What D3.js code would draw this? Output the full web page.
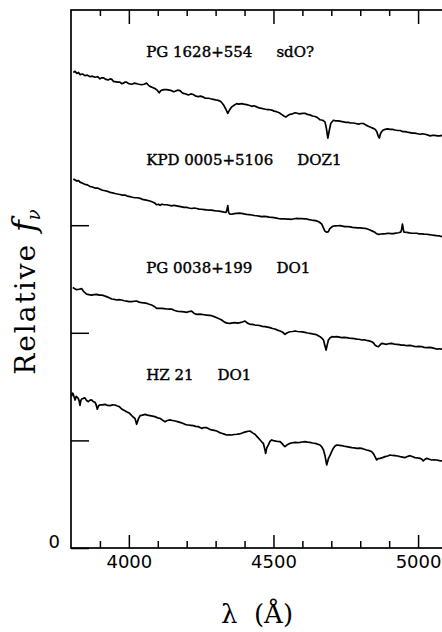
<!DOCTYPE html>
<html>
<head>
<meta charset="utf-8">
<script src="https://cdn.jsdelivr.net/npm/d3@7"></script>
<style>
  body { margin: 0; background: #fff; }
  svg { display: block; background: #fff; }
  .spectrum { fill: none; stroke: #000; stroke-width: 1.7; stroke-linejoin: round; }
  .tick line { stroke: #000; stroke-width: 1.5; }
</style>
</head>
<body>
<svg id="chart" width="442" height="632"></svg>
<script>
// Spectra of hot subdwarf / DO white dwarfs (relative f_nu, offset by 1 each)

const starNames = ["PG 1628+554", "KPD 0005+5106", "PG 0038+199", "HZ 21"];
const spectralTypes = ["sdO?", "DOZ1", "DO1", "DO1"];
const majorTicks = [4000, 4500, 5000];
const minorTicks = [3900, 4100, 4200, 4300, 4400, 4600, 4700, 4800, 4900, 5100];
const fluxTicks = [0, 1, 2, 3];

const pg1628 = [[3808,4.42],[3814,4.43],[3820,4.41],[3826,4.42],[3831,4.40],[3840,4.405],[3848,4.39],[3857,4.395],[3866,4.38],[3874,4.385],[3883,4.375],[3892,4.38],[3900,4.36],[3906,4.37],[3912,4.37],[3920,4.355],[3929,4.35],[3935,4.36],[3941,4.355],[3947,4.335],[3952,4.335],[3960,4.33],[3969,4.33],[3975,4.315],[3981,4.32],[3987,4.33],[3992,4.33],[4000,4.315],[4010,4.31],[4018,4.32],[4027,4.315],[4035,4.31],[4044,4.305],[4052,4.31],[4062,4.32],[4068,4.30],[4073,4.29],[4082,4.28],[4090,4.27],[4098,4.255],[4105,4.23],[4110,4.25],[4114,4.255],[4122,4.26],[4131,4.26],[4140,4.255],[4148,4.25],[4155,4.24],[4160,4.245],[4168,4.255],[4177,4.25],[4183,4.235],[4188,4.225],[4197,4.22],[4206,4.21],[4214,4.22],[4223,4.215],[4231,4.20],[4240,4.195],[4248,4.20],[4258,4.19],[4265,4.18],[4275,4.18],[4283,4.175],[4292,4.17],[4300,4.165],[4309,4.16],[4318,4.15],[4327,4.12],[4335,4.08],[4342,4.04],[4348,4.07],[4356,4.10],[4364,4.115],[4373,4.13],[4380,4.125],[4390,4.13],[4398,4.125],[4407,4.12],[4415,4.115],[4425,4.105],[4433,4.11],[4442,4.10],[4450,4.09],[4459,4.085],[4468,4.08],[4477,4.075],[4485,4.075],[4494,4.07],[4502,4.06],[4511,4.055],[4520,4.045],[4528,4.03],[4536,4.015],[4543,4.005],[4550,4.02],[4557,4.03],[4566,4.035],[4575,4.045],[4583,4.04],[4592,4.035],[4600,4.04],[4609,4.04],[4617,4.03],[4626,4.025],[4635,4.015],[4644,4.01],[4652,4.0],[4661,3.98],[4670,3.975],[4678,3.96],[4683,3.90],[4688,3.81],[4693,3.88],[4698,3.945],[4707,3.975],[4715,3.97],[4724,3.97],[4733,3.965],[4742,3.96],[4750,3.955],[4759,3.955],[4767,3.95],[4776,3.95],[4785,3.945],[4794,3.94],[4802,3.945],[4811,3.945],[4820,3.93],[4828,3.92],[4836,3.91],[4845,3.90],[4852,3.89],[4857,3.87],[4862,3.83],[4866,3.81],[4870,3.85],[4874,3.87],[4880,3.885],[4886,3.89],[4895,3.895],[4903,3.89],[4912,3.89],[4920,3.885],[4930,3.88],[4938,3.88],[4946,3.87],[4955,3.87],[4963,3.865],[4972,3.86],[4980,3.855],[4989,3.855],[4998,3.85],[5007,3.845],[5015,3.85],[5024,3.845],[5032,3.84],[5041,3.83],[5050,3.835],[5058,3.835],[5067,3.83],[5076,3.83],[5083,3.835],[5095,3.83]];

const kpd0005 = [[3808,3.43],[3814,3.42],[3820,3.41],[3826,3.415],[3831,3.40],[3840,3.39],[3848,3.38],[3857,3.375],[3866,3.36],[3874,3.355],[3883,3.345],[3892,3.345],[3900,3.335],[3909,3.325],[3918,3.32],[3926,3.315],[3935,3.305],[3944,3.30],[3952,3.295],[3960,3.29],[3969,3.285],[3978,3.28],[3987,3.28],[3995,3.27],[4004,3.265],[4012,3.26],[4021,3.255],[4030,3.255],[4039,3.25],[4047,3.24],[4056,3.235],[4064,3.23],[4073,3.225],[4082,3.215],[4090,3.205],[4096,3.19],[4102,3.195],[4108,3.185],[4114,3.195],[4122,3.19],[4131,3.19],[4140,3.185],[4148,3.18],[4156,3.185],[4165,3.18],[4174,3.175],[4183,3.17],[4191,3.165],[4200,3.165],[4208,3.16],[4217,3.155],[4226,3.16],[4235,3.155],[4243,3.15],[4252,3.148],[4260,3.145],[4269,3.142],[4278,3.14],[4286,3.14],[4295,3.135],[4304,3.132],[4312,3.13],[4321,3.126],[4330,3.122],[4336,3.12],[4339,3.14],[4342,3.182],[4345,3.12],[4348,3.105],[4356,3.102],[4364,3.108],[4373,3.11],[4382,3.112],[4390,3.11],[4398,3.105],[4407,3.10],[4416,3.098],[4425,3.095],[4433,3.09],[4442,3.088],[4450,3.085],[4459,3.08],[4468,3.082],[4477,3.08],[4485,3.075],[4494,3.073],[4502,3.07],[4511,3.065],[4520,3.06],[4528,3.058],[4537,3.06],[4546,3.057],[4554,3.056],[4563,3.055],[4572,3.06],[4580,3.064],[4589,3.062],[4598,3.062],[4606,3.058],[4615,3.058],[4623,3.052],[4632,3.048],[4640,3.045],[4649,3.04],[4658,3.03],[4667,3.01],[4672,2.98],[4678,2.945],[4684,2.935],[4690,2.94],[4694,2.965],[4698,2.975],[4705,2.99],[4713,2.993],[4722,2.995],[4730,2.996],[4738,2.992],[4747,2.987],[4756,2.988],[4765,2.985],[4773,2.98],[4782,2.978],[4790,2.976],[4799,2.975],[4808,2.972],[4817,2.97],[4825,2.965],[4834,2.955],[4842,2.945],[4851,2.934],[4857,2.92],[4863,2.915],[4872,2.918],[4880,2.92],[4889,2.922],[4897,2.925],[4906,2.922],[4915,2.922],[4923,2.926],[4932,2.93],[4940,2.935],[4943,2.96],[4946,3.01],[4949,2.96],[4951,2.935],[4961,2.934],[4970,2.928],[4978,2.925],[4987,2.925],[4995,2.925],[5004,2.92],[5013,2.919],[5021,2.917],[5030,2.916],[5039,2.912],[5047,2.909],[5056,2.906],[5064,2.903],[5074,2.9],[5083,2.894],[5095,2.89]];

const pg0038 = [[3806,2.42],[3813,2.41],[3820,2.40],[3828,2.405],[3837,2.41],[3845,2.38],[3854,2.36],[3862,2.355],[3871,2.35],[3880,2.355],[3889,2.357],[3897,2.35],[3906,2.35],[3914,2.345],[3923,2.336],[3932,2.325],[3941,2.314],[3950,2.31],[3958,2.305],[3966,2.308],[3975,2.305],[3984,2.298],[3992,2.295],[4001,2.29],[4010,2.289],[4018,2.293],[4027,2.295],[4035,2.285],[4044,2.28],[4053,2.278],[4062,2.274],[4070,2.265],[4079,2.258],[4088,2.245],[4096,2.227],[4105,2.228],[4114,2.227],[4122,2.225],[4131,2.221],[4140,2.22],[4148,2.221],[4156,2.21],[4165,2.202],[4174,2.198],[4183,2.196],[4191,2.194],[4200,2.19],[4208,2.198],[4217,2.202],[4226,2.18],[4235,2.171],[4243,2.174],[4252,2.171],[4260,2.168],[4269,2.165],[4278,2.162],[4286,2.159],[4295,2.15],[4304,2.14],[4312,2.13],[4321,2.119],[4332,2.097],[4341,2.09],[4350,2.088],[4358,2.092],[4367,2.094],[4376,2.09],[4384,2.094],[4393,2.1],[4402,2.109],[4410,2.09],[4419,2.079],[4428,2.078],[4436,2.072],[4445,2.07],[4454,2.066],[4462,2.06],[4471,2.057],[4480,2.052],[4488,2.048],[4497,2.04],[4505,2.035],[4514,2.025],[4523,2.017],[4532,2.005],[4540,1.986],[4548,2.0],[4557,2.01],[4566,2.012],[4575,2.017],[4583,2.012],[4592,2.01],[4600,2.008],[4609,2.004],[4618,1.998],[4626,1.995],[4635,1.99],[4644,1.986],[4652,1.978],[4661,1.964],[4667,1.95],[4673,1.933],[4678,1.88],[4682,1.84],[4686,1.89],[4690,1.933],[4696,1.955],[4702,1.964],[4710,1.962],[4719,1.964],[4728,1.96],[4736,1.955],[4745,1.957],[4753,1.955],[4762,1.95],[4771,1.948],[4780,1.945],[4788,1.942],[4796,1.94],[4805,1.933],[4814,1.935],[4822,1.93],[4831,1.925],[4840,1.917],[4846,1.905],[4851,1.886],[4857,1.875],[4863,1.871],[4868,1.885],[4874,1.902],[4883,1.897],[4892,1.893],[4900,1.9],[4909,1.902],[4918,1.895],[4926,1.893],[4935,1.89],[4943,1.886],[4952,1.885],[4961,1.88],[4970,1.883],[4978,1.88],[4987,1.874],[4995,1.871],[5004,1.873],[5013,1.871],[5021,1.865],[5030,1.862],[5039,1.864],[5047,1.862],[5056,1.855],[5064,1.849],[5074,1.852],[5083,1.849],[5095,1.845]];

const hz21 = [[3802,1.41],[3805,1.44],[3808,1.43],[3811,1.40],[3814,1.375],[3818,1.41],[3822,1.40],[3825,1.39],[3828,1.37],[3831,1.325],[3834,1.37],[3837,1.385],[3842,1.39],[3848,1.395],[3854,1.37],[3860,1.36],[3866,1.375],[3871,1.376],[3877,1.36],[3883,1.355],[3887,1.33],[3891,1.29],[3895,1.32],[3900,1.33],[3909,1.33],[3918,1.335],[3926,1.325],[3935,1.323],[3944,1.33],[3952,1.329],[3960,1.32],[3967,1.314],[3975,1.292],[3983,1.28],[3992,1.267],[4001,1.255],[4010,1.23],[4016,1.215],[4021,1.205],[4027,1.15],[4033,1.2],[4039,1.23],[4047,1.235],[4056,1.242],[4064,1.235],[4073,1.23],[4082,1.225],[4090,1.221],[4099,1.21],[4108,1.205],[4116,1.19],[4125,1.174],[4133,1.185],[4142,1.19],[4151,1.185],[4160,1.18],[4168,1.175],[4177,1.168],[4186,1.16],[4194,1.149],[4200,1.145],[4206,1.143],[4214,1.14],[4223,1.137],[4231,1.13],[4240,1.128],[4246,1.12],[4252,1.112],[4260,1.12],[4269,1.118],[4278,1.105],[4286,1.097],[4295,1.093],[4304,1.087],[4312,1.075],[4321,1.066],[4330,1.058],[4338,1.05],[4347,1.052],[4356,1.05],[4364,1.055],[4373,1.057],[4382,1.06],[4390,1.066],[4398,1.075],[4407,1.081],[4413,1.085],[4419,1.087],[4428,1.07],[4436,1.057],[4445,1.03],[4454,1.004],[4460,0.985],[4465,0.973],[4469,0.93],[4473,0.88],[4477,0.93],[4482,0.957],[4488,0.99],[4494,1.004],[4500,0.998],[4505,0.995],[4514,0.99],[4523,0.988],[4530,0.97],[4536,0.95],[4540,0.942],[4548,0.96],[4557,0.973],[4566,0.978],[4575,0.982],[4583,0.98],[4592,0.982],[4600,0.985],[4609,0.988],[4618,0.984],[4626,0.982],[4635,0.976],[4644,0.973],[4652,0.965],[4661,0.957],[4667,0.94],[4673,0.911],[4678,0.86],[4684,0.772],[4690,0.83],[4696,0.864],[4702,0.9],[4707,0.926],[4713,0.948],[4719,0.957],[4728,0.954],[4736,0.951],[4745,0.946],[4753,0.942],[4762,0.938],[4771,0.933],[4780,0.93],[4788,0.926],[4796,0.928],[4805,0.926],[4814,0.918],[4822,0.911],[4831,0.905],[4840,0.895],[4846,0.875],[4851,0.849],[4857,0.818],[4862,0.83],[4868,0.833],[4877,0.84],[4886,0.849],[4895,0.855],[4903,0.864],[4912,0.86],[4920,0.858],[4929,0.855],[4938,0.849],[4946,0.845],[4955,0.84],[4963,0.85],[4972,0.858],[4980,0.85],[4989,0.84],[4998,0.838],[5007,0.833],[5013,0.825],[5018,0.809],[5024,0.825],[5030,0.833],[5039,0.825],[5047,0.818],[5056,0.82],[5064,0.818],[5074,0.812],[5083,0.809],[5095,0.805]];

const spectra = [pg1628, kpd0005, pg0038, hz21];

class SpectraChart {
  constructor(svgId) {
    this.svg = d3.select(`#${svgId}`);
    this.x = d3.scaleLinear().domain([3800, 5100]).range([71, 447]);
    this.y = d3.scaleLinear().domain([0, 5]).range([548, 10]);
  }

  render() {
    const x = this.x, y = this.y;

    // frame
    this.svg.append('rect')
      .attr('x', x(3800)).attr('y', y(5))
      .attr('width', x(5100) - x(3800)).attr('height', y(0) - y(5))
      .attr('fill', 'none').attr('stroke', '#000').attr('stroke-width', 1.7);

    this.drawXAxes();
    this.drawYAxis();

    const line = d3.line().x(d => x(d[0])).y(d => y(d[1]));
    this.svg.selectAll('.spectrum')
      .data(spectra)
      .enter().append('path')
      .attr('class', 'spectrum')
      .attr('d', line);

    this.drawLabels();
  }

  drawXAxes() {
    const x = this.x, y = this.y;
    const bottom = this.svg.append('g').attr('transform', `translate(0,${y(0)})`);
    bottom.append('g').call(d3.axisBottom(x).tickValues(minorTicks).tickSizeInner(-7).tickSizeOuter(0).tickFormat(''));
    bottom.append('g').call(d3.axisBottom(x).tickValues(majorTicks).tickSizeInner(-13).tickSizeOuter(0)
      .tickPadding(7).tickFormat(d3.format('d')));
    bottom.selectAll('text')
      .attr('font-family', 'DejaVu Sans, sans-serif')
      .attr('font-size', 18);

    const top = this.svg.append('g').attr('transform', `translate(0,${y(5)})`);
    top.append('g').call(d3.axisTop(x).tickValues(minorTicks).tickSizeInner(-6).tickSizeOuter(0).tickFormat(''));
    top.append('g').call(d3.axisTop(x).tickValues(majorTicks).tickSizeInner(-14).tickSizeOuter(0).tickFormat(''));

    this.svg.selectAll('.domain').remove();

    this.svg.append('text')
      .attr('x', 257).attr('y', 623)
      .attr('text-anchor', 'middle')
      .attr('font-family', 'DejaVu Serif, serif')
      .attr('font-size', 26)
      .attr('xml:space', 'preserve')
      .text('λ  (Å)');
  }

  drawYAxis() {
    const x = this.x, y = this.y;
    const left = this.svg.append('g').attr('transform', `translate(${x(3800)},0)`);
    left.call(d3.axisLeft(y).tickValues(fluxTicks).tickSizeInner(-18).tickSizeOuter(0)
      .tickPadding(11).tickFormat(d => d === 0 ? '0' : ''));
    left.select('.domain').remove();
    left.selectAll('text')
      .attr('dy', '-0.02em')
      .attr('font-family', 'DejaVu Sans, sans-serif')
      .attr('font-size', 18);

    const lab = this.svg.append('text')
      .attr('transform', 'translate(35,292) rotate(-90)')
      .attr('text-anchor', 'middle')
      .attr('font-family', 'DejaVu Serif, serif')
      .attr('font-size', 28);
    lab.append('tspan').attr('letter-spacing', 2).text('Relative ');
    lab.append('tspan').attr('font-style', 'italic').attr('font-size', 32).text('f');
    lab.append('tspan').attr('font-style', 'italic').attr('font-size', 18).attr('dy', 5).text('ν');
  }

  drawLabels() {
    const x = this.x, y = this.y;
    starNames.forEach((name, i) => {
      const level = starNames.length - 1 - i;
      const g = this.svg.append('g')
        .attr('font-family', 'DejaVu Serif, serif')
        .attr('font-size', 15)
        .attr('stroke', '#000')
        .attr('stroke-width', 0.4);
      const t = g.append('text')
        .attr('x', x(4060)).attr('y', y(level + 1.56))
        .text(name);
      const w = t.node().getComputedTextLength();
      g.append('text')
        .attr('x', x(4060) + w + 24).attr('y', y(level + 1.56))
        .text(spectralTypes[i]);
    });
  }
}

new SpectraChart('chart').render();
</script>
</body>
</html>
